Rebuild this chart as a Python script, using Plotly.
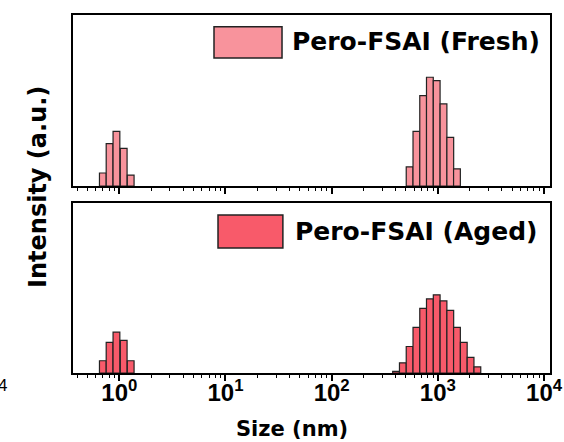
import numpy as np
import plotly.graph_objects as go

# DLS size distributions (size in nm, intensity in %)
size_small = [0.70, 0.81, 0.94, 1.10, 1.28]
size_large = [404, 468, 542, 628, 727, 841, 975, 1130, 1309, 1513, 1754, 2032, 2355]

fresh_small = [1.9, 6.2, 8.0, 5.5, 1.6]
fresh_large_size = size_large[2:10]
fresh_large = [2.8, 8.0, 13.2, 15.9, 15.4, 12.0, 7.1, 2.5]

aged_small = [1.8, 4.5, 6.0, 4.8, 1.8]
aged_large = [0.25, 1.5, 3.9, 6.7, 9.5, 10.9, 11.5, 10.6, 9.2, 6.7, 4.5, 2.3, 0.9]

tick_vals = [1, 10, 100, 1000, 10000]
tick_text = ["10<sup>0</sup>", "10<sup>1</sup>", "10<sup>2</sup>", "10<sup>3</sup>", "10<sup>4</sup>"]

FRESH_COLOR = "#f8939c"
AGED_COLOR = "#f85a6a"
EDGE = "#222222"
HALF_BIN = 0.0319  # half bin width in decades
FONT = "Liberation Sans"
WIDE = "DejaVu Sans"

fig = go.Figure()


def add_bars(sizes, values, color, xaxis, yaxis):
    for s, v in zip(sizes, values):
        lo = s * 10 ** (-HALF_BIN)
        hi = s * 10 ** HALF_BIN
        fig.add_trace(go.Scatter(
            x=[lo, lo, hi, hi, lo], y=[0, v, v, 0, 0],
            mode="lines", fill="toself", fillcolor=color,
            line=dict(color=EDGE, width=1.2),
            xaxis=xaxis, yaxis=yaxis, showlegend=False, hoverinfo="skip",
        ))


add_bars(size_small, fresh_small, FRESH_COLOR, "x2", "y2")
add_bars(fresh_large_size, fresh_large, FRESH_COLOR, "x2", "y2")
add_bars(size_small, aged_small, AGED_COLOR, "x", "y")
add_bars(size_large, aged_large, AGED_COLOR, "x", "y")

minor_vals = [m * 10 ** k for k in range(-1, 4) for m in range(2, 10)]
x_range = [-0.436, 4.056]

common_x = dict(
    type="log", range=x_range, showline=True, linecolor="black", linewidth=2,
    mirror=True, ticks="outside", ticklen=6, tickwidth=1.5, tickcolor="black",
    tickvals=tick_vals, ticktext=tick_text, showgrid=False, zeroline=False,
    automargin=False,
    minor=dict(tickvals=minor_vals, ticks="outside", ticklen=3, tickwidth=1.2,
               tickcolor="black", showgrid=False),
)
common_y = dict(
    range=[0, 25], showline=True, linecolor="black", linewidth=2, mirror=True,
    ticks="", showticklabels=False, showgrid=False, zeroline=False,
    automargin=False,
)

fig.update_layout(
    width=564, height=442,
    margin=dict(l=73, r=14, t=15, b=69),
    paper_bgcolor="white", plot_bgcolor="white",
    font=dict(family=FONT, color="black"),
    xaxis=dict(common_x, anchor="y", ticklabelstandoff=-9,
               tickfont=dict(family=FONT, size=24, weight="bold", color="black")),
    xaxis2=dict(common_x, anchor="y2", matches="x", showticklabels=False),
    yaxis=dict(common_y, domain=[0, 0.4749], anchor="x"),
    yaxis2=dict(common_y, domain=[0.5223, 1], anchor="x2"),
)

# x-axis title
fig.add_annotation(
    text="Size (nm)", xref="paper", yref="paper", x=0.459, y=-0.156,
    showarrow=False, xanchor="center", yanchor="middle",
    font=dict(family=WIDE, size=21, weight="bold", color="black"),
)

# y-axis title shared by both panels
fig.add_annotation(
    text="Intensity (a.u.)", xref="paper", yref="paper", x=-0.0734, y=0.5196,
    textangle=-90, showarrow=False, xanchor="center", yanchor="middle",
    font=dict(family=WIDE, size=24, weight="bold", color="black"),
)

# legend swatches and labels
legend_items = [
    ("Pero-FSAI (Fresh)", FRESH_COLOR, (0.2956, 0.4382), (0.8799, 0.9673), 0.455, 0.9246),
    ("Pero-FSAI (Aged)", AGED_COLOR, (0.304, 0.440), (0.3492, 0.4413), 0.461, 0.3953),
]
for label, color, (x0, x1), (y0, y1), tx, ty in legend_items:
    fig.add_shape(type="rect", xref="paper", yref="paper", x0=x0, x1=x1, y0=y0, y1=y1,
                  fillcolor=color, line=dict(color=EDGE, width=1.5))
    fig.add_annotation(text=label, xref="paper", yref="paper", x=tx, y=ty,
                       xanchor="left", yanchor="middle", showarrow=False,
                       font=dict(family=WIDE, size=25, weight="bold", color="black"))

# stray tick label at the left edge
fig.add_annotation(text="4", xref="paper", yref="paper", x=-0.134, y=-0.036,
                   xanchor="right", yanchor="middle", showarrow=False,
                   font=dict(family=FONT, size=17, color="black"))

fig.write_html("out.html")
